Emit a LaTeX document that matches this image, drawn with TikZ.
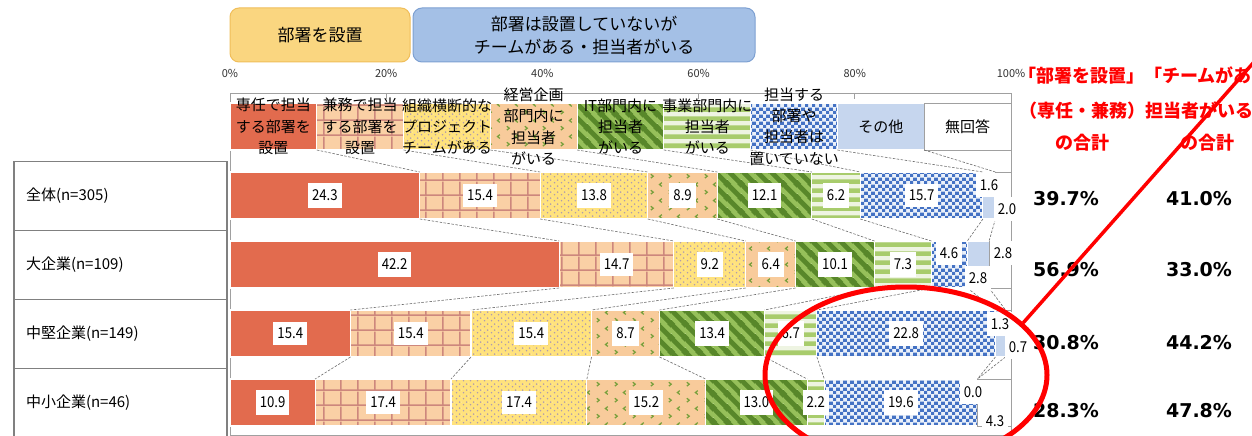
\documentclass[tikz,border=0pt]{standalone}
\usepackage{fontspec}
\newfontfamily\jp{Noto Sans CJK JP}
\newfontfamily\jpn[FakeStretch=0.88]{Noto Sans CJK JP}
\newfontfamily\dvb{DejaVu Sans}
\usetikzlibrary{patterns,shapes.geometric}

\definecolor{cRed}{RGB}{226,107,78}
\definecolor{cGridBg}{RGB}{250,208,165}
\definecolor{cGridLn}{RGB}{205,135,125}
\definecolor{cYel}{RGB}{255,226,125}
\definecolor{cDot}{RGB}{175,155,175}
\definecolor{cPeach}{RGB}{248,203,155}
\definecolor{cChev}{RGB}{120,160,60}
\definecolor{cGrL}{RGB}{150,192,90}
\definecolor{cGrD}{RGB}{88,135,42}
\definecolor{cHbg}{RGB}{238,244,226}
\definecolor{cHln}{RGB}{168,204,108}
\definecolor{cBlue}{RGB}{68,114,196}
\definecolor{cCheckBg}{RGB}{235,241,250}
\definecolor{cLBlue}{RGB}{198,214,238}
\definecolor{cHdrO}{RGB}{250,214,128}
\definecolor{cHdrOb}{RGB}{240,190,90}
\definecolor{cHdrB}{RGB}{164,192,230}
\definecolor{cHdrBb}{RGB}{125,160,210}
\definecolor{cFrame}{RGB}{160,160,160}
\definecolor{cTab}{RGB}{128,128,128}
\definecolor{cSeries}{RGB}{110,110,110}
\definecolor{cAnno}{RGB}{255,0,0}

\pgfdeclarepatterninherentlycolored{kgrid}{\pgfpointorigin}{\pgfpoint{17pt}{15pt}}{\pgfpoint{17pt}{15pt}}{%
  \pgfsetfillcolor{cGridLn}%
  \pgfpathrectangle{\pgfpoint{0pt}{0pt}}{\pgfpoint{1.6pt}{15pt}}%
  \pgfpathrectangle{\pgfpoint{0pt}{0pt}}{\pgfpoint{17pt}{1.6pt}}%
  \pgfusepath{fill}}
\pgfdeclarepatterninherentlycolored{kdots}{\pgfpointorigin}{\pgfpoint{7pt}{6pt}}{\pgfpoint{7pt}{6pt}}{%
  \pgfsetfillcolor{cDot}%
  \pgfpathcircle{\pgfpoint{1.75pt}{1.5pt}}{0.95pt}%
  \pgfpathcircle{\pgfpoint{5.25pt}{4.5pt}}{0.95pt}%
  \pgfusepath{fill}}
\pgfdeclarepatterninherentlycolored{kchev}{\pgfpointorigin}{\pgfpoint{18pt}{16pt}}{\pgfpoint{18pt}{16pt}}{%
  \pgfsetstrokecolor{cChev}\pgfsetlinewidth{1.3pt}%
  \pgfpathmoveto{\pgfpoint{3pt}{2pt}}\pgfpathlineto{\pgfpoint{5.5pt}{4pt}}\pgfpathlineto{\pgfpoint{3pt}{6pt}}%
  \pgfpathmoveto{\pgfpoint{14.5pt}{10pt}}\pgfpathlineto{\pgfpoint{12pt}{12pt}}\pgfpathlineto{\pgfpoint{14.5pt}{14pt}}%
  \pgfusepath{stroke}}
\pgfdeclarepatterninherentlycolored{kdiag}{\pgfpointorigin}{\pgfpoint{14pt}{14pt}}{\pgfpoint{14pt}{14pt}}{%
  \pgfsetstrokecolor{cGrD}\pgfsetlinewidth{5pt}%
  \pgfpathmoveto{\pgfpoint{-3pt}{17pt}}\pgfpathlineto{\pgfpoint{17pt}{-3pt}}%
  \pgfpathmoveto{\pgfpoint{-5pt}{5pt}}\pgfpathlineto{\pgfpoint{5pt}{-5pt}}%
  \pgfpathmoveto{\pgfpoint{9pt}{19pt}}\pgfpathlineto{\pgfpoint{19pt}{9pt}}%
  \pgfusepath{stroke}}
\pgfdeclarepatterninherentlycolored{khstr}{\pgfpointorigin}{\pgfpoint{6pt}{9pt}}{\pgfpoint{6pt}{9pt}}{%
  \pgfsetfillcolor{cHln}%
  \pgfpathrectangle{\pgfpoint{-1pt}{0pt}}{\pgfpoint{8pt}{5pt}}%
  \pgfusepath{fill}}
\pgfdeclarepatterninherentlycolored{kcheck}{\pgfpointorigin}{\pgfpoint{7pt}{7pt}}{\pgfpoint{7pt}{7pt}}{%
  \pgfsetfillcolor{cBlue}%
  \pgfpathrectangle{\pgfpoint{0pt}{0pt}}{\pgfpoint{3.6pt}{3.6pt}}%
  \pgfpathrectangle{\pgfpoint{3.5pt}{3.5pt}}{\pgfpoint{3.6pt}{3.6pt}}%
  \pgfusepath{fill}}

\tikzset{
  seg/.style={draw=white, line width=1.1pt},
  c1/.style={fill=cRed},
  c2/.style={preaction={fill=cGridBg}, pattern=kgrid},
  c3/.style={preaction={fill=cYel}, pattern=kdots},
  c4/.style={preaction={fill=cPeach}, pattern=kchev},
  c5/.style={preaction={fill=cGrL}, pattern=kdiag},
  c6/.style={preaction={fill=cHbg}, pattern=khstr},
  c7/.style={preaction={fill=cCheckBg}, pattern=kcheck},
  c8/.style={fill=cLBlue},
  c9/.style={fill=white, draw=cFrame, line width=0.8pt},
  lab/.style={fill=white, inner xsep=4pt, inner ysep=6.5pt, font=\jpn\fontsize{15}{15}\selectfont},
  leg/.style={align=center, inner sep=0pt, font=\jp\fontsize{15}{21.3}\selectfont},
  cell/.style={draw=cTab, line width=1.5pt, minimum height=69pt, text width=189pt, inner xsep=12pt, align=left, font=\jp\fontsize{15}{15}\selectfont},
  hdr/.style={rounded corners=9pt, minimum height=54pt, line width=1pt, inner sep=0pt, align=center, font=\jp\fontsize{17}{23}\selectfont},
  axl/.style={font=\jp\fontsize{11}{11}\selectfont, text=black!80, inner sep=0pt},
  series/.style={draw=cSeries, line width=0.6pt, dash pattern=on 2.5pt off 1.5pt},
  redt/.style={text=cAnno, inner sep=0pt, font=\jp\bfseries\fontsize{18}{18}\selectfont},
  bignum/.style={inner sep=0pt, font=\dvb\bfseries\fontsize{19}{19}\selectfont},
}

\newcommand\drawbarrow[3]{%
  \foreach \k/\xa/\xb in {#3} {%
    \path[seg,c\k] (\xa,#2) rectangle (\xb,#2+47);
    \coordinate (r#1-t\k) at (\xb,#2);
    \coordinate (r#1-b\k) at (\xb,#2+47);
  }}

\begin{document}
\begin{tikzpicture}[x=1pt,y=-1pt]
\useasboundingbox (0,0) rectangle (1252,436);
\fill[white] (0,0) rectangle (1252,436);

% header boxes
\node[hdr, fill=cHdrO, draw=cHdrOb, minimum width=180pt] (h1) at (320,35) {部署を設置};
\node[hdr, fill=cHdrB, draw=cHdrBb, minimum width=342pt] (h2) at (584,35) {部署は設置していないが\\チームがある・担当者がいる};

% axis labels
\foreach \i/\x/\t in {0/230/0, 1/386.2/20, 2/542.4/40, 3/698.6/60, 4/854.8/80, 5/1011/100}
  \node[axl] (ax\i) at (\x,73) {\t\%};

% plot frame and ticks
\draw[cFrame, line width=1pt] (230,93) rectangle (1011,435);
\foreach \x in {386.2,542.4,698.6,854.8}
  \draw[cFrame, line width=1pt] (\x,93) -- (\x,99);

% category table
\node[cell] (t1) at (120.5,196) {全体(n=305)};
\node[cell] (t2) at (120.5,265) {大企業(n=109)};
\node[cell] (t3) at (120.5,334) {中堅企業(n=149)};
\node[cell] (t4) at (120.5,403) {中小企業(n=46)};

% bars
\drawbarrow{0}{103}{1/230/316.8, 2/316.8/403.6, 3/403.6/490.3, 4/490.3/577.1, 5/577.1/663.9, 6/663.9/750.7, 7/750.7/837.4, 8/837.4/924.2, 9/924.2/1011}
\drawbarrow{1}{172}{1/230/419.8, 2/419.8/540.1, 3/540.1/647.8, 4/647.8/717.3, 5/717.3/811.8, 6/811.8/860.3, 7/860.3/982.9, 8/982.9/995.4, 9/995.4/1011}
\drawbarrow{2}{241}{1/230/559.2, 2/559.2/673.9, 3/673.9/745.7, 4/745.7/795.6, 5/795.6/874.4, 6/874.4/931.4, 7/931.4/967.3, 8/967.3/989.1, 9/989.1/1011}
\drawbarrow{3}{310}{1/230/350.5, 2/350.5/471.0, 3/471.0/591.5, 4/591.5/659.6, 5/659.6/764.5, 6/764.5/816.9, 7/816.9/995.4, 8/995.4/1005.5, 9/1005.5/1011}
\drawbarrow{4}{379}{1/230/315.1, 2/315.1/451.0, 3/451.0/586.9, 4/586.9/705.6, 5/705.6/807.2, 6/807.2/824.3, 7/824.3/977.4, 8/977.4/977.4, 9/977.4/1011}

% series lines
\foreach \r/\s in {0/1, 1/2, 2/3, 3/4}
  \foreach \k in {1,...,8}
    \draw[series] (r\r-b\k) -- (r\s-t\k);

% legend texts
\node[leg] (g1) at (273.4,126.5) {専任で担当\\する部署を\\設置};
\node[leg] (g2) at (360.2,126.5) {兼務で担当\\する部署を\\設置};
\node[leg] (g3) at (447.0,126.5) {組織横断的な\\プロジェクト\\チームがある};
\node[leg] (g4) at (533.7,126.5) {経営企画\\部門内に\\担当者\\がいる};
\node[leg] (g5) at (620.5,126.5) {IT部門内に\\担当者\\がいる};
\node[leg] (g6) at (707.3,126.5) {事業部門内に\\担当者\\がいる};
\node[leg] (g7) at (794.1,126.5) {担当する\\部署や\\担当者は\\置いていない};
\node[leg] (g8) at (880.8,126.5) {その他};
\node[leg] (g9) at (967.6,126.5) {無回答};

% data labels
\foreach \k/\x/\y/\t in {1/324.9/195.5/24.3, 2/480.0/195.5/15.4, 3/594.0/195.5/13.8, 4/682.6/195.5/8.9, 5/764.6/195.5/12.1, 6/836.1/195.5/6.2, 7/921.6/195.5/15.7, 8/989/185/1.6, 9/1007/209/2.0}
  \node[lab] (v1-\k) at (\x,\y) {\t};
\foreach \k/\x/\y/\t in {1/394.6/264.5/42.2, 2/616.6/264.5/14.7, 3/709.8/264.5/9.2, 4/770.7/264.5/6.4, 5/835.0/264.5/10.1, 6/902.9/264.5/7.3, 7/949/253/4.6, 8/1003/253/2.8, 9/978/278/2.8}
  \node[lab] (v2-\k) at (\x,\y) {\t};
\foreach \k/\x/\y/\t in {1/290.3/333.5/15.4, 2/410.8/333.5/15.4, 3/531.3/333.5/15.4, 4/625.6/333.5/8.7, 5/712.1/333.5/13.4, 6/790.7/333.5/6.7, 7/906.2/333.5/22.8, 8/1000/324/1.3, 9/1018/347/0.7}
  \node[lab] (v3-\k) at (\x,\y) {\t};
\foreach \k/\x/\y/\t in {1/272.6/402.5/10.9, 2/383.1/402.5/17.4, 3/519.0/402.5/17.4, 4/646.3/402.5/15.2, 5/756.4/402.5/13.0, 6/815.8/402.5/2.2, 7/900.9/402.5/19.6, 8/973/392/0.0, 9/995/421/4.3}
  \node[lab] (v4-\k) at (\x,\y) {\t};

% totals
\node[redt, anchor=west] (rt1) at (1018,75) {「部署を設置」「チームがある・};
\node[redt, anchor=west] (rt2) at (1019,111) {（専任・兼務）担当者がいる」};
\node[redt] (rt3) at (1082,143) {の合計};
\node[redt] (rt4) at (1207,143) {の合計};

\node[bignum] (p11) at (1066,199) {39.7\%};
\node[bignum] (p12) at (1199,199) {41.0\%};
\node[bignum] (p21) at (1066,270) {56.9\%};
\node[bignum] (p22) at (1199,270) {33.0\%};
\node[bignum] (p31) at (1066,343) {30.8\%};
\node[bignum] (p32) at (1199,343) {44.2\%};
\node[bignum] (p41) at (1066,411) {28.3\%};
\node[bignum] (p42) at (1199,411) {47.8\%};

% red highlight
\node[ellipse, draw=cAnno, line width=5pt, minimum width=282pt, minimum height=176pt, inner sep=0pt] (oval) at (906,375) {};
\coordinate (lineend) at (1262,53);
\draw[cAnno, line width=3.5pt] (oval.24) -- (lineend);
\end{tikzpicture}
\end{document}
